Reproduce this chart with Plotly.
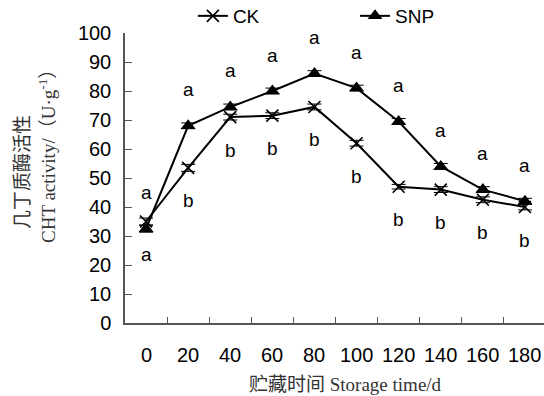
import plotly.graph_objects as go

days = ["0", "20", "40", "60", "80", "100", "120", "140", "160", "180"]
ck = [35, 53.5, 71, 71.5, 74.5, 62, 47, 46, 42.5, 40]
snp = [32.5, 68, 74.5, 80, 86, 81, 69.5, 54, 46, 42]
ck_err = [1.2, 1.2, 1.0, 1.0, 1.0, 1.0, 0.8, 1.0, 1.0, 1.0]
snp_err = [1.2, 1.0, 1.0, 1.0, 1.0, 1.0, 1.0, 1.0, 1.0, 1.0]
ck_letters = ["a", "b", "b", "b", "b", "b", "b", "b", "b", "b"]
snp_letters = ["a", "a", "a", "a", "a", "a", "a", "a", "a", "a"]

idx = list(range(len(days)))
fig = go.Figure()
fig.add_trace(go.Scatter(
    x=idx, y=ck, name="CK", mode="lines+markers", legend="legend",
    line=dict(color="black", width=2),
    marker=dict(symbol="x-thin", size=12, line=dict(color="black", width=1.6), color="black"),
    error_y=dict(type="data", array=ck_err, color="black", thickness=1, width=7),
))
fig.add_trace(go.Scatter(
    x=idx, y=snp, name="SNP", mode="lines+markers", legend="legend2",
    line=dict(color="black", width=2),
    marker=dict(symbol="triangle-up", size=13, color="black"),
    error_y=dict(type="data", array=snp_err, color="black", thickness=1, width=7),
))

for i in idx:
    fig.add_annotation(x=i, y=snp[i], text=snp_letters[i], showarrow=False,
                       yshift=36, font=dict(size=19, color="black", family="Liberation Sans"))
    fig.add_annotation(x=i, y=ck[i], text=ck_letters[i], showarrow=False,
                       yshift=-33, font=dict(size=19, color="black", family="Liberation Sans"))

# x tick labels at category centers
for i in idx:
    fig.add_annotation(x=i, y=0, xref="x", yref="y", text=days[i], showarrow=False,
                       yshift=-32, font=dict(size=20, color="black", family="Liberation Sans"))

# x axis title
fig.add_annotation(x=(345 - 125) / 419, y=-(384 - 323) / 290, xref="paper", yref="paper",
                   text="贮藏时间 Storage time/d", showarrow=False, yanchor="middle",
                   font=dict(size=19, color="#333", family="Liberation Serif, Noto Sans CJK SC"))

# y axis title (two lines)
fig.add_annotation(x=-(125 - 20) / 419, y=(323 - 172) / 290, xref="paper", yref="paper",
                   text="几丁质酶活性", showarrow=False, textangle=-90,
                   xanchor="center", yanchor="middle",
                   font=dict(size=19, color="#333", family="Noto Sans CJK SC"))
fig.add_annotation(x=-(125 - 47) / 419, y=(323 - 152) / 290, xref="paper", yref="paper",
                   text="CHT activity/（U·g<sup>-1</sup>）", showarrow=False, textangle=-90,
                   xanchor="center", yanchor="middle",
                   font=dict(size=19, color="#333", family="Liberation Serif, Noto Sans CJK SC"))

legend_style = dict(orientation="h", xref="paper", yref="paper", y=1 + 36 / 290,
                    yanchor="top", xanchor="left",
                    font=dict(size=19, family="Liberation Sans", color="black"),
                    bgcolor="rgba(0,0,0,0)")

fig.update_layout(
    width=544, height=396,
    margin=dict(l=125, r=0, t=33, b=73, autoexpand=False),
    plot_bgcolor="white", paper_bgcolor="white",
    showlegend=True,
    legend=dict(x=0.162, **legend_style),
    legend2=dict(x=0.549, **legend_style),
    xaxis=dict(range=[-0.5, 9.452], tickvals=[i + 0.5 for i in idx[:-1]],
               showticklabels=False, ticks="inside", ticklen=6, tickcolor="#555",
               showline=True, linecolor="#555", linewidth=1.5, showgrid=False, zeroline=False),
    yaxis=dict(range=[0, 100], tickvals=list(range(0, 101, 10)),
               ticks="inside", ticklen=7, tickcolor="#555", ticklabelstandoff=8,
               showline=True, linecolor="#555", linewidth=1.5, showgrid=False, zeroline=False,
               tickfont=dict(size=20, family="Liberation Sans", color="black")),
)

fig.write_html("out.html")
